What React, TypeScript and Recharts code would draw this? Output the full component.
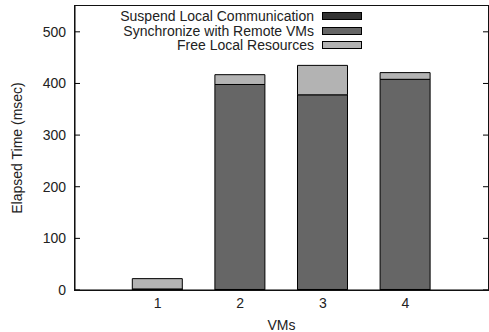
import { BarChart, Bar, XAxis, YAxis } from 'recharts'

const VMS = [1, 2, 3, 4]
const SUSPEND = [2, 1, 1, 1]
const SYNC = [0, 397, 377, 407]
const FREE = [20, 19, 57, 13]
const X_DOMAIN = [0, 5]
const Y_TICKS = [0, 100, 200, 300, 400, 500]
const Y_MAX = 550

const SERIES = [
  { key: 'suspend', name: 'Suspend Local Communication', color: '#333333' },
  { key: 'sync', name: 'Synchronize with Remote VMs', color: '#666666' },
  { key: 'free', name: 'Free Local Resources', color: '#b3b3b3' },
]

const data = VMS.map((vm, i) => ({
  vm,
  suspend: SUSPEND[i],
  sync: SYNC[i],
  free: FREE[i],
}))

const W = 489
const H = 332
const MARGIN = { top: 6, right: 1, left: 0, bottom: 0 }
const Y_AXIS_W = 75
const X_AXIS_H = 42
const PLOT_W = W - MARGIN.left - MARGIN.right - Y_AXIS_W
const PLOT_H = H - MARGIN.top - MARGIN.bottom - X_AXIS_H

const FONT = '"Liberation Sans", Arial, Helvetica, sans-serif'
const TEXT = '#222'

// gnuplot style: short tick marks pointing into the plot, mirrored on the right
function YTick({ x, y, payload }: any) {
  return (
    <g>
      <line x1={x} x2={x + 5} y1={y} y2={y} stroke="#000" strokeWidth={1} />
      <line x1={x + PLOT_W - 5} x2={x + PLOT_W} y1={y} y2={y} stroke="#000" strokeWidth={1} />
      <text x={x - 9} y={y} dy="0.36em" textAnchor="end" fontSize={14} fill={TEXT} fontFamily={FONT}>
        {payload.value}
      </text>
    </g>
  )
}

function XLabel({ viewBox }: any) {
  return (
    <text x={viewBox.x + viewBox.width / 2} y={330} textAnchor="middle"
      fontSize={14} fill={TEXT} fontFamily={FONT}>VMs</text>
  )
}

function YLabel({ viewBox }: any) {
  const cy = viewBox.y + viewBox.height / 2
  return (
    <text x={22} y={cy} textAnchor="middle" transform={`rotate(-90 22 ${cy})`}
      fontSize={14} fill={TEXT} fontFamily={FONT}>Elapsed Time (msec)</text>
  )
}

// the gnuplot box round the plot area
function Frame() {
  return (
    <div style={{
      position: 'absolute', pointerEvents: 'none', boxSizing: 'border-box',
      left: MARGIN.left + Y_AXIS_W - 1, top: MARGIN.top - 1,
      width: PLOT_W + 2, height: PLOT_H + 2,
      border: '1px solid #111',
    }} />
  )
}

function Legendish() {
  return (
    <div style={{
      position: 'absolute', top: 9, left: 100, width: 262,
      fontFamily: FONT, fontSize: 14, color: TEXT,
    }}>
      {SERIES.map(s => (
        <div key={s.key} style={{ display: 'flex', justifyContent: 'flex-end', alignItems: 'center', height: 14.5 }}>
          <span style={{ lineHeight: '14px', whiteSpace: 'nowrap' }}>{s.name}</span>
          <span style={{
            display: 'inline-block', width: 38, height: 6, marginLeft: 8,
            background: s.color, border: '1px solid #000',
          }} />
        </div>
      ))}
    </div>
  )
}

export default function App() {
  return (
    <div style={{ position: 'absolute', left: 0, top: 0, width: W, height: H, background: '#fff' }}>
      <BarChart width={W} height={H} data={data} margin={MARGIN} barSize={50}>
        <XAxis
          dataKey="vm"
          type="number"
          domain={X_DOMAIN}
          ticks={VMS}
          allowDataOverflow
          height={X_AXIS_H}
          axisLine={{ stroke: '#000' }}
          tickLine={false}
          tickSize={0}
          tickMargin={8}
          tick={{ fontSize: 14, fill: TEXT, fontFamily: FONT }}
          label={{ content: <XLabel /> }}
        />
        <YAxis
          width={Y_AXIS_W}
          domain={[0, Y_MAX]}
          ticks={Y_TICKS}
          allowDataOverflow
          axisLine={{ stroke: '#000' }}
          tickLine={false}
          tickSize={0}
          tickMargin={0}
          tick={<YTick />}
          label={{ content: <YLabel /> }}
        />
        {SERIES.map(s => (
          <Bar key={s.key} dataKey={s.key} name={s.name} stackId="a" fill={s.color}
            stroke="#000" strokeWidth={1} isAnimationActive={false} />
        ))}
      </BarChart>
      <Frame />
      <Legendish />
    </div>
  )
}
